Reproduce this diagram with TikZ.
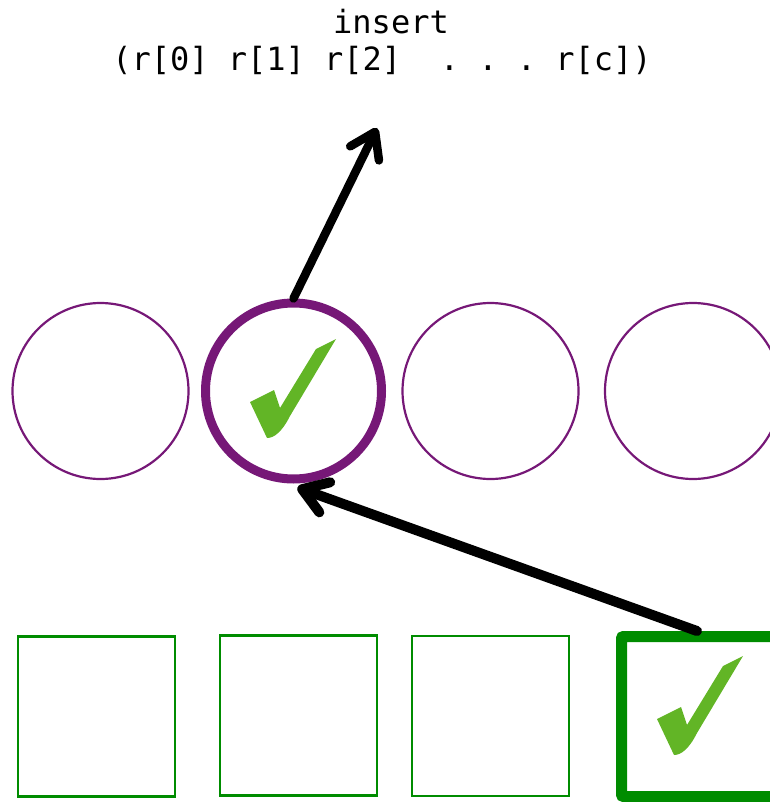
\documentclass[tikz,border=0pt]{standalone}
\usepackage{fontspec}
\newfontfamily\codefont{DejaVu Sans Mono}
\usetikzlibrary{arrows.meta}
\definecolor{ringpurple}{HTML}{761877}
\definecolor{boxgreen}{HTML}{008C00}
\definecolor{checkgreen}{HTML}{62B526}
\tikzset{
  ring/.style={circle, draw=ringpurple, line width=2.2pt, minimum size=176pt, inner sep=0pt},
  ringsel/.style={ring, line width=9pt},
  slot/.style={rectangle, draw=boxgreen, line width=2.4pt, minimum width=157pt, minimum height=160pt, inner sep=0pt},
  slotsel/.style={slot, line width=11pt, rounded corners=2pt},
  label/.style={font=\codefont\fontsize{32}{38}\selectfont, inner sep=0pt, anchor=base},
  bigarrow/.style={line width=#1, line cap=round, -{Straight Barb[length=24pt,width=32pt,line cap=round,line join=round]}},
  pics/okmark/.style={code={
    \fill[checkgreen] (0,0) -- (24,-12) -- (30,6) -- (66,-53) -- (86,-63)
      -- (40,14) .. controls (32,30) and (24,36) .. (17,36) -- cycle;
  }}
}
\begin{document}
\begin{tikzpicture}[x=1pt,y=-1pt]
\useasboundingbox (0,0) rectangle (769,802);
\node[label] (title) at (391,34) {insert};
\node[label] (args) at (382,71) {(r[0] r[1] r[2]~~.~.~.~r[c])};
\coordinate (target) at (377,128);
\node[ring] (c1) at (100.5,391) {};
\node[ringsel] (c2) at (293.5,391) {};
\node[ring] (c3) at (490.5,391) {};
\node[ring] (c4) at (693,391) {};
\node[slot] (s1) at (96.5,716.5) {};
\node[slot] (s2) at (298.5,715.5) {};
\node[slot] (s3) at (490.5,716) {};
\node[slotsel] (s4) at (700,716.5) {};
\pic at (250,402) {okmark};
\pic at (657,719) {okmark};
\draw[bigarrow=8.5pt] (c2.north) -- (target);
\draw[bigarrow=10pt] ([xshift=-3pt]s4.north) -- ([xshift=4pt,yshift=-4pt]c2.south);
\end{tikzpicture}
\end{document}
